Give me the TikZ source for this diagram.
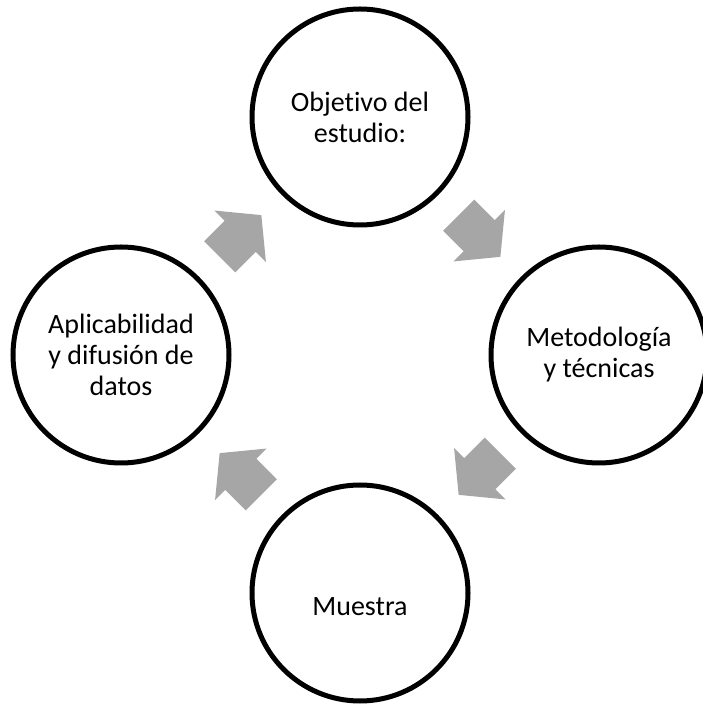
\documentclass[tikz,border=0pt]{standalone}
\usepackage{fontspec}
\setmainfont{Carlito}[Ligatures={NoCommon}]
\usetikzlibrary{calc}
\definecolor{arrowgray}{HTML}{A6A6A6}
\begin{document}
\begin{tikzpicture}[x=1pt,y=1pt,
  stage/.style={circle, draw=black, line width=5pt, minimum size=216pt, inner sep=0pt, align=center, font=\fontsize{28}{31}\selectfont},
  stagetext/.style={align=center, inner sep=0pt, font=\fontsize{28}{31}\selectfont},
  cyclearrow/.pic={\fill[arrowgray] (-29.5,22) -- (-0.5,22) -- (-0.5,36.5) -- (29.5,0) -- (-0.5,-36.5) -- (-0.5,-22) -- (-29.5,-22) -- cycle;}]
\useasboundingbox (0,0) rectangle (702,704);
\node[stage] (obj) at (360,587) {Objetivo del\\estudio:};
\node[stage] (met) at (599,349) {Metodología\\y técnicas};
\node[stage] (mue) at (360,111) {};
\node[stage] (apl) at (121,349) {Aplicabilidad\\y difusión de\\datos};
\node[stagetext] (muetext) at ($(mue)+(0,-14)$) {Muestra};
\coordinate (a1) at ($(obj)!0.5!(met)$);
\coordinate (a2) at ($(met)!0.5!(mue)$);
\coordinate (a3) at ($(mue)!0.5!(apl)$);
\coordinate (a4) at ($(apl)!0.5!(obj)$);
\pic[rotate=-45] at (a1) {cyclearrow};
\pic[rotate=-135] at (a2) {cyclearrow};
\pic[rotate=135] at (a3) {cyclearrow};
\pic[rotate=45] at (a4) {cyclearrow};
\end{tikzpicture}
\end{document}
